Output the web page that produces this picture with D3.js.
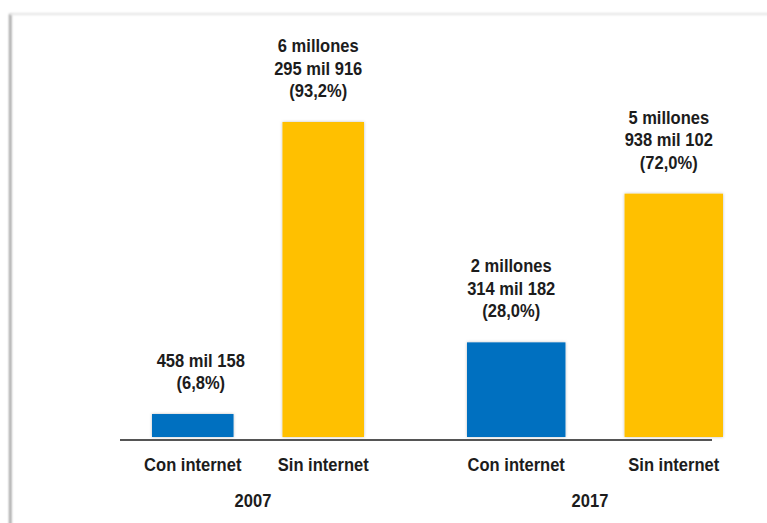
<!DOCTYPE html>
<html>
<head>
<meta charset="utf-8">
<script src="https://cdn.jsdelivr.net/npm/d3@7"></script>
<style>
  html, body { margin: 0; padding: 0; background: #fff; }
  svg { display: block; }
  text { font-family: "Liberation Sans", Arial, sans-serif; font-weight: bold; fill: #1c1c1c; }
</style>
</head>
<body>
<svg id="chart" width="767" height="523"></svg>
<script>
const years = ["2007", "2017"]
const categories = ["Con internet", "Sin internet"]
const percents = [[6.8, 93.2], [28.0, 72.0]]
const valueLabels = [
  [["458 mil 158", "(6,8%)"], ["6 millones", "295 mil 916", "(93,2%)"]],
  [["2 millones", "314 mil 182", "(28,0%)"], ["5 millones", "938 mil 102", "(72,0%)"]]
]
const colors = ["#0570c0", "#ffc000"]

const width = 767,
  height = 523,
  baseY = 437,
  lineH = 22.5,
  narrow = 0.87 // squeeze text to look like a narrow face

// each year group has its own span in the original figure
const groupRange = { "2007": [152, 364], "2017": [467, 723] }
// value labels are not quite centred over their bars in the original
const labelShift = [[8, -5], [-5, -5]]

const svg = d3.select("#chart")

// panel frame with soft shadow on left/top
const defs = svg.append("defs")
const blur = defs.append("filter").attr("id", "soft")
  .attr("filterUnits", "userSpaceOnUse")
  .attr("x", 0).attr("y", 0).attr("width", width).attr("height", height)
blur.append("feGaussianBlur").attr("stdDeviation", 1)

svg.append("rect")
  .attr("x", 9).attr("y", 14).attr("width", 2.5).attr("height", height)
  .attr("fill", "#a0a0a0").attr("filter", "url(#soft)")
svg.append("rect")
  .attr("x", 10).attr("y", 13).attr("width", width).attr("height", 2)
  .attr("fill", "#e4e4e4").attr("filter", "url(#soft)")

const y = d3.scaleLinear().domain([0, 93.2]).range([baseY, 122])

const barShadow = defs.append("filter").attr("id", "barShadow").attr("x", "-10%").attr("y", "-10%").attr("width", "120%").attr("height", "120%")
barShadow.append("feDropShadow").attr("dx", 0).attr("dy", 0).attr("stdDeviation", 1.5).attr("flood-color", "#000").attr("flood-opacity", 0.25)

// baseline
svg.append("line")
  .attr("x1", 120).attr("x2", 712).attr("y1", 440).attr("y2", 440)
  .attr("stroke", "#555").attr("stroke-width", 2)

const label = (sel, cx, yy, txt) =>
  sel.append("text")
    .attr("transform", `translate(${cx},${yy}) scale(${narrow},1)`)
    .attr("text-anchor", "middle")
    .attr("font-size", 19)
    .text(txt)

years.forEach((yr, gi) => {
  const x = d3.scaleBand().domain(categories).range(groupRange[yr]).paddingInner(0.375).paddingOuter(0)
  const g = svg.append("g").attr("class", "group")

  g.selectAll("rect")
    .data(categories)
    .join("rect")
    .attr("x", (d) => x(d))
    .attr("width", x.bandwidth())
    .attr("y", (d, i) => y(percents[gi][i]))
    .attr("height", (d, i) => baseY - y(percents[gi][i]))
    .attr("fill", (d, i) => colors[i])
    .attr("filter", "url(#barShadow)")

  categories.forEach((c, i) => {
    const cx = x(c) + x.bandwidth() / 2
    // value labels above bars
    const lines = valueLabels[gi][i]
    const top = y(percents[gi][i])
    lines.forEach((ln, k) => {
      label(g, cx + labelShift[gi][i], top - 25 - (lines.length - 1 - k) * lineH, ln)
    })
    // category label
    label(g, cx, 471, c)
  })

  // year label
  const r = groupRange[yr]
  label(g, (r[0] + r[1]) / 2 - 5, 507, yr)
})
</script>
</body>
</html>
